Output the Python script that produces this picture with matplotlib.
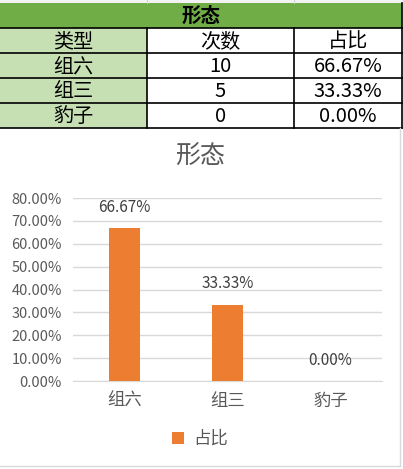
import matplotlib.pyplot as plt
from matplotlib.patches import Rectangle

plt.rcParams['font.family'] = ['Noto Sans CJK SC', 'DejaVu Sans']

title = "形态"
col_names = ["类型", "次数", "占比"]
categories = ["组六", "组三", "豹子"]
counts = [10, 5, 0]
shares = [0.6667, 0.3333, 0.0]
share_labels = ["66.67%", "33.33%", "0.00%"]
yticks = [0.0, 0.1, 0.2, 0.3, 0.4, 0.5, 0.6, 0.7, 0.8]

orange = "#ED7D31"
txt = "#595959"
grid = "#D9D9D9"

fig = plt.figure(figsize=(4.03, 4.69), dpi=100)

# pixel layer for the spreadsheet table and chart frame
lay = fig.add_axes([0, 0, 1, 1], zorder=0)
lay.set_xlim(0, 403)
lay.set_ylim(469, 0)
lay.axis("off")

# spreadsheet strip above the table
lay.add_patch(Rectangle((0, 0), 403, 3, color="#F2F2F2", lw=0))
for x in (147, 294):
    lay.plot([x, x], [0, 3], color="#D0D0D0", lw=0.8)

cols = [0, 147, 294, 402]
rows = [3, 28, 53, 78, 103, 128]

lay.add_patch(Rectangle((0, rows[0]), 402, rows[1] - rows[0], color="#70AD47", lw=0))
lay.add_patch(Rectangle((0, rows[1]), cols[1], rows[-1] - rows[1], color="#C6E0B4", lw=0))
lay.text(201, (rows[0] + rows[1]) / 2 + 1, title, ha="center", va="center",
         fontsize=14, fontweight="bold", color="black")

table_rows = [col_names] + [[c, str(n), s] for c, n, s in zip(categories, counts, share_labels)]
for r, vals in enumerate(table_rows):
    yc = (rows[r + 1] + rows[r + 2]) / 2 + 1
    for c, v in enumerate(vals):
        xc = (cols[c] + cols[c + 1]) / 2
        lay.text(xc, yc, v, ha="center", va="center", fontsize=14.5, color="black")

# borders
for y in rows[1:]:
    lay.plot([0, 402], [y, y], color="black", lw=1.2)
for x in cols[1:]:
    lay.plot([x, x], [rows[1], rows[-1]], color="black", lw=1.2)
lay.plot([402, 402], [rows[0], rows[1]], color="black", lw=1.2)

# chart frame
lay.plot([400, 400], [128, 466], color="#D9D9D9", lw=1)
lay.plot([0, 400], [466, 466], color="#D9D9D9", lw=1)

# bar chart
ax = fig.add_axes([73 / 403, 88 / 469, 309 / 403, 183 / 469], zorder=1)
ax.patch.set_alpha(0)
x = list(range(len(categories)))
bars = ax.bar(x, shares, width=0.31, color=orange, label="占比", zorder=3)
ax.set_xlim(-0.5, 2.5)
ax.set_ylim(0, 0.8)
ax.set_yticks(yticks)
ax.set_yticklabels([f"{v * 100:.2f}%" for v in yticks])
ax.set_xticks(x)
ax.set_xticklabels(categories)
ax.tick_params(axis="y", length=0, pad=8, labelsize=10.5, labelcolor=txt)
ax.tick_params(axis="x", length=0, pad=8, labelsize=12.5, labelcolor=txt)
ax.grid(axis="y", color=grid, lw=1, zorder=0)
for s in ["top", "right", "left"]:
    ax.spines[s].set_visible(False)
ax.spines["bottom"].set_color(grid)

for b, lab in zip(bars, share_labels):
    ax.annotate(lab, (b.get_x() + b.get_width() / 2, b.get_height()),
                xytext=(0, 15), textcoords="offset points",
                ha="center", va="center", fontsize=11, color="#404040")

fig.text(200 / 403, 1 - 157 / 469, title, ha="center", va="center",
         fontsize=18, color=txt)

fig.legend(handles=[bars], labels=["占比"], loc="center",
           bbox_to_anchor=(200 / 403, 30 / 469), frameon=False,
           fontsize=12.5, labelcolor=txt, handlelength=0.7, handleheight=0.7,
           handletextpad=0.5)

fig.savefig("out.png", dpi=100, facecolor="white")
